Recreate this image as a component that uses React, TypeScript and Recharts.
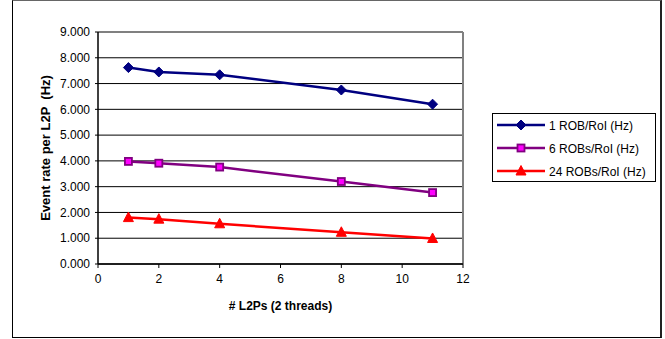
import React from 'react'
import {
  LineChart,
  Line,
  XAxis,
  YAxis,
  CartesianGrid,
  ReferenceLine,
  Label,
} from 'recharts'

const xValues = [1, 2, 4, 8, 11]
const oneRob = [7.62, 7.45, 7.34, 6.75, 6.2]
const sixRobs = [3.98, 3.91, 3.76, 3.2, 2.77]
const twentyFourRobs = [1.8, 1.74, 1.56, 1.23, 0.99]

const xTicks = [0, 2, 4, 6, 8, 10, 12]
const yTicks = [0, 1, 2, 3, 4, 5, 6, 7, 8, 9]

const seriesNames = ['1 ROB/RoI (Hz)', '6 ROBs/RoI (Hz)', '24 ROBs/RoI (Hz)']

const data = xValues.map((x, i) => ({
  x,
  one: oneRob[i],
  six: sixRobs[i],
  twentyFour: twentyFourRobs[i],
}))

const FONT = "'Liberation Sans', Arial, sans-serif"

function Diamond({ cx, cy }: { cx: number; cy: number }) {
  const r = 5
  return (
    <path
      d={`M ${cx} ${cy - r} L ${cx + r} ${cy} L ${cx} ${cy + r} L ${cx - r} ${cy} Z`}
      fill="#000080"
      stroke="#000080"
      strokeWidth={1}
    />
  )
}

function Square({ cx, cy }: { cx: number; cy: number }) {
  const s = 3.5
  return (
    <rect
      x={cx - s}
      y={cy - s}
      width={s * 2}
      height={s * 2}
      fill="#FF00FF"
      stroke="#800080"
      strokeWidth={1.8}
    />
  )
}

function Triangle({ cx, cy }: { cx: number; cy: number }) {
  return (
    <path
      d={`M ${cx} ${cy - 5.5} L ${cx + 5} ${cy + 4} L ${cx - 5} ${cy + 4} Z`}
      fill="#FF0000"
      stroke="#FF0000"
      strokeWidth={1}
    />
  )
}

const markers = [Diamond, Square, Triangle]
const colors = ['#000080', '#800080', '#FF0000']

function dotOf(i: number) {
  const Marker = markers[i]
  return (props: any) => {
    const { cx, cy, index } = props
    if (cx == null || cy == null) return <g key={`d-${i}-${index}`} />
    return (
      <g key={`d-${i}-${index}`}>
        <Marker cx={cx} cy={cy} />
      </g>
    )
  }
}

function LegendBox() {
  return (
    <svg width={165} height={70} style={{ display: 'block' }}>
      <rect x={0.5} y={0.5} width={163} height={68} fill="#fff" stroke="#000" strokeWidth={1} />
      {seriesNames.map((name, i) => {
        const Marker = markers[i]
        const y = 12 + i * 23
        return (
          <g key={name}>
            <line x1={5} x2={53} y1={y} y2={y} stroke={colors[i]} strokeWidth={2.5} />
            <Marker cx={29} cy={y} />
            <text x={57} y={y + 4.5} fontFamily={FONT} fontSize={12} fill="#000">
              {name}
            </text>
          </g>
        )
      })}
    </svg>
  )
}

function YTitle(props: any) {
  const vb = props.viewBox || {}
  const cy = (vb.y ?? 0) + (vb.height ?? 0) / 2
  const cx = 45
  return (
    <text
      x={cx}
      y={cy}
      transform={`rotate(-90 ${cx} ${cy})`}
      textAnchor="middle"
      dominantBaseline="central"
      fontFamily={FONT}
      fontSize={13}
      fontWeight="bold"
      fill="#000"
      style={{ whiteSpace: 'pre' }}
    >
      {'Event rate per L2P  (Hz)'}
    </text>
  )
}

export default function App() {
  return (
    <div style={{ position: 'absolute', left: 0, top: 0, width: 665, height: 339, background: '#fff' }}>
      <div
        style={{
          position: 'absolute',
          left: 12,
          top: 0,
          width: 650,
          height: 338,
          boxSizing: 'border-box',
          borderLeft: '1px solid #000',
          borderBottom: '1px solid #000',
          borderRight: '2px solid #222',
          borderTop: '1px solid #666',
        }}
      />
      <div style={{ position: 'absolute', left: 0, top: 0 }}>
        <LineChart
          width={665}
          height={339}
          data={data}
          margin={{ top: 32, right: 202, left: 0, bottom: 29 }}
        >
          <CartesianGrid vertical={false} stroke="#000" strokeWidth={1} />
          <XAxis
            dataKey="x"
            type="number"
            domain={[0, 12]}
            ticks={xTicks}
            height={46}
            tickSize={4}
            tickMargin={6}
            axisLine={{ stroke: '#000', strokeWidth: 1.5 }}
            tickLine={{ stroke: '#000' }}
            tick={{ fontSize: 12, fontFamily: FONT, fill: '#000' }}
          >
            <Label
              value="# L2Ps (2 threads)"
              position="insideBottom"
              offset={0}
              style={{ fontSize: 12, fontFamily: FONT, fontWeight: 'bold', fill: '#000' }}
            />
          </XAxis>
          <YAxis
            type="number"
            domain={[0, 9]}
            ticks={yTicks}
            width={98}
            tickSize={3}
            tickMargin={5}
            interval={0}
            tickFormatter={(v: number) => v.toFixed(3)}
            axisLine={{ stroke: '#000', strokeWidth: 1.5 }}
            tickLine={{ stroke: '#000' }}
            tick={{ fontSize: 12, fontFamily: FONT, fill: '#000' }}
          >
            <Label content={YTitle} />
          </YAxis>
          <ReferenceLine y={9} stroke="#808080" strokeWidth={2} />
          <ReferenceLine x={12} stroke="#808080" strokeWidth={2} />
          <Line
            dataKey="one"
            name={seriesNames[0]}
            stroke={colors[0]}
            strokeWidth={2.5}
            dot={dotOf(0)}
            isAnimationActive={false}
          />
          <Line
            dataKey="six"
            name={seriesNames[1]}
            stroke={colors[1]}
            strokeWidth={2.5}
            dot={dotOf(1)}
            isAnimationActive={false}
          />
          <Line
            dataKey="twentyFour"
            name={seriesNames[2]}
            stroke={colors[2]}
            strokeWidth={2.5}
            dot={dotOf(2)}
            isAnimationActive={false}
          />
        </LineChart>
      </div>
      <div style={{ position: 'absolute', left: 492, top: 113 }}>
        <LegendBox />
      </div>
    </div>
  )
}
